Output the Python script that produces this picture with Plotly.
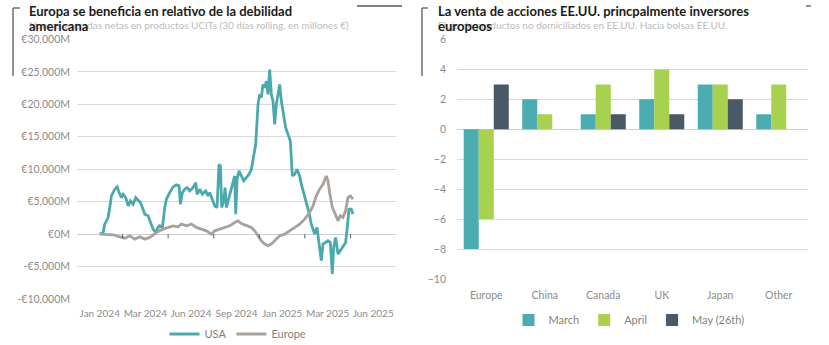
import plotly.graph_objects as go

# ---------------- data: left chart (UCITS net flows, € millions) ----------------
time_labels = ["Jan 2024", "Mar 2024", "Jun 2024", "Sep 2024", "Jan 2025", "Mar 2025", "Jun 2025"]
label_step = 136.8  # timeline units between two consecutive labels

usa_t = [0, 10, 15, 25, 30, 35, 45, 52, 58, 65, 70, 78, 85, 92, 100, 108, 115, 122, 128, 135,
         145, 152, 160, 168, 175, 180, 188, 195, 200, 210, 220, 230, 238, 242, 248, 255, 262,
         270, 280, 288, 292, 300, 308, 318, 325, 330, 338, 345, 352, 358, 362, 366, 372, 376,
         380, 385, 390, 398, 405, 408, 412, 418, 425, 432, 440, 448, 455, 460, 468, 475, 480,
         485, 490, 495, 500, 505, 510, 515, 520, 525, 530, 535, 540, 545, 552, 558, 565, 572,
         578, 585, 592, 600, 605, 612, 620, 628, 635, 645, 652, 658, 665, 670, 678, 685, 692,
         698, 702, 708, 715, 722, 730, 738, 743, 748, 755, 760]
usa_v = [0, 260, 1540, 2560, 4100, 5900, 6920, 7280, 6410, 5640, 6150, 5640, 4360, 5130, 4620,
         5640, 5230, 4870, 4100, 3080, 2820, 1790, 770, 260, 1030, 1280, 1030, 4100, 5380, 6410,
         7280, 7590, 7440, 4620, 6410, 6920, 7180, 6670, 7180, 7950, 6150, 6920, 6150, 6670,
         5900, 6410, 5130, 4360, 4100, 10770, 10510, 4100, 5130, 7180, 4100, 5130, 6150, 7440,
         8970, 3080, 8460, 9740, 8970, 8200, 8720, 9230, 10000, 11280, 13850, 20000, 21540,
         21030, 23080, 22560, 23590, 21540, 25380, 21540, 20510, 16920, 20000, 21540, 23080,
         20510, 18460, 16410, 15380, 14360, 8970, 9230, 10000, 8970, 7690, 6410, 4620, 3330,
         1540, 0, 1030, -1280, -4100, -1540, -1280, -1030, -1280, -6150, -2050, -510, -3080,
         -2560, -2050, -1280, 1030, 3850, 3850, 3080]

eur_t = [0, 20, 40, 60, 75, 90, 105, 120, 135, 150, 165, 175, 190, 205, 220, 235, 245, 260,
         275, 290, 305, 320, 335, 345, 360, 375, 390, 405, 415, 425, 440, 455, 465, 475, 485,
         495, 505, 515, 525, 540, 555, 570, 585, 600, 615, 630, 640, 650, 660, 670, 680, 685,
         690, 698, 705, 715, 722, 730, 738, 745, 752, 760]
eur_v = [0, -100, -100, -410, -620, -260, -770, -410, -770, -510, 0, 410, 770, 1030, 1280, 1130,
         1540, 1280, 1540, 1030, 770, 510, 0, 510, 770, 1030, 1280, 1790, 2050, 1640, 1280, 1030,
         510, -260, -1030, -1540, -1790, -1540, -1030, -260, 0, 510, 1030, 1540, 2310, 3330,
         4360, 5900, 6920, 7690, 8970, 8200, 6410, 4100, 3330, 2050, 2820, 2560, 3590, 5640,
         5900, 5380]

left_ticks = [-10000, -5000, 0, 5000, 10000, 15000, 20000, 25000, 30000]
left_ticktext = ["-€10,000M", "-€5,000M", "€0M", "€5,000M", "€10,000M", "€15,000M",
                 "€20,000M", "€25,000M", "€30,000M"]

# ---------------- data: right chart ----------------
regions = ["Europe", "China", "Canada", "UK", "Japan", "Other"]
march = [-8, 2, 1, 2, 3, 1]
april = [-6, 1, 3, 4, 3, 3]
may26 = [3, None, 1, 1, 2, None]
right_ticks = [-10, -8, -6, -4, -2, 0, 2, 4, 6]

# ---------------- styles ----------------
TEAL = "#4BA9AD"
GREY = "#A8A19C"
C_MAR = "#4BADB1"
C_APR = "#A7D14F"
C_MAY = "#4A5966"
GRID = "#D9D9D9"
TICK = "#8C8C8C"
FONT = "Lato"
W, H = 829, 345

fig = go.Figure()
fig.add_trace(go.Scatter(x=usa_t, y=usa_v, mode="lines", name="USA",
                         line=dict(color=TEAL, width=2.8), xaxis="x", yaxis="y",
                         legend="legend"))
fig.add_trace(go.Scatter(x=eur_t, y=eur_v, mode="lines", name="Europe",
                         line=dict(color=GREY, width=2.8), xaxis="x", yaxis="y",
                         legend="legend"))

for name, vals, col in [("March", march, C_MAR), ("April", april, C_APR), ("May (26th)", may26, C_MAY)]:
    fig.add_trace(go.Bar(x=regions, y=vals, name=name, marker=dict(color=col, line=dict(width=0)),
                         xaxis="x2", yaxis="y2", legend="legend2"))

# small tick marks on the zero line of the left chart, between labels
shapes = []
for i in range(len(time_labels) - 1):
    xt = (i + 0.5) * label_step
    shapes.append(dict(type="line", xref="x", yref="y", x0=xt, x1=xt, y0=0, y1=-650,
                       line=dict(color="#595959", width=1)))

# decorative frame lines
def pline(x0, y0, x1, y1, color="#595959", width=1.3):
    return dict(type="line", xref="paper", yref="paper", x0=x0 / W, x1=x1 / W,
                y0=1 - y0 / H, y1=1 - y1 / H, line=dict(color=color, width=width))

shapes += [
    pline(13, 8, 13, 76), pline(13, 8, 20, 8),
    pline(357, 6, 402, 6),
    pline(422, 8, 422, 76), pline(422, 8, 428, 8),
    pline(806, 6, 811, 6),
]

TS = 13
annotations = [
    dict(text="<b>Europa se beneficia en relativo de la debilidad</b>", x=27 / W, y=1 - 11 / H,
         xref="paper", yref="paper", xanchor="left", yanchor="middle", showarrow=False,
         font=dict(family=FONT, size=TS, color="#1a1a1a")),
    dict(text="Nuevas entradas netas en productos UCITs (30 días rolling, en millones €)",
         x=27 / W, y=1 - 25 / H, xref="paper", yref="paper", xanchor="left", yanchor="middle",
         showarrow=False, font=dict(family=FONT, size=10, color="#BBBBBB")),
    dict(text="<b>americana</b>", x=27 / W, y=1 - 26 / H,
         xref="paper", yref="paper", xanchor="left", yanchor="middle", showarrow=False,
         font=dict(family=FONT, size=TS, color="#1a1a1a")),
    dict(text="<b>La venta de acciones EE.UU. princpalmente inversores</b>", x=436 / W, y=1 - 11 / H,
         xref="paper", yref="paper", xanchor="left", yanchor="middle", showarrow=False,
         font=dict(family=FONT, size=TS, color="#1a1a1a")),
    dict(text="Flujo de productos no domiciliados en EE.UU. Hacia bolsas EE.UU.",
         x=436 / W, y=1 - 25 / H, xref="paper", yref="paper", xanchor="left", yanchor="middle",
         showarrow=False, font=dict(family=FONT, size=10, color="#BBBBBB")),
    dict(text="<b>europeos</b>", x=436 / W, y=1 - 26 / H,
         xref="paper", yref="paper", xanchor="left", yanchor="middle", showarrow=False,
         font=dict(family=FONT, size=TS, color="#1a1a1a")),
]

fig.update_layout(
    width=W, height=H,
    margin=dict(l=0, r=0, t=0, b=0, autoexpand=False),
    paper_bgcolor="white", plot_bgcolor="white",
    font=dict(family=FONT, size=10, color=TICK),
    barmode="group", bargap=0.23, bargroupgap=0,
    xaxis=dict(domain=[77 / W, 396 / W], range=[-label_step / 2, label_step * 6.5],
               tickvals=[i * label_step for i in range(len(time_labels))], ticktext=time_labels,
               showgrid=False, zeroline=False, showline=False, ticks="", ticklabelstandoff=7,
               tickangle=0, automargin=False,
               tickfont=dict(family=FONT, size=10, color=TICK), anchor="y"),
    yaxis=dict(domain=[1 - 299 / H, 1 - 39.5 / H], range=[-10000, 30000],
               tickvals=left_ticks, ticktext=left_ticktext, automargin=False,
               showgrid=True, gridcolor=GRID, gridwidth=1, zeroline=True,
               zerolinecolor="#CFCFCF", zerolinewidth=1.2, ticks="", ticklabelstandoff=6,
               tickfont=dict(family=FONT, size=10.5, color=TICK), anchor="x"),
    xaxis2=dict(domain=[457 / W, 808 / W], showgrid=False, zeroline=False, showline=False,
                ticks="", ticklabelstandoff=8, tickangle=0, automargin=False,
                tickfont=dict(family=FONT, size=10.5, color=TICK), anchor="y2"),
    yaxis2=dict(domain=[1 - 279 / H, 1 - 39.5 / H], range=[-10, 6], tickvals=right_ticks,
                showgrid=True, gridcolor=GRID, gridwidth=1, zeroline=True, automargin=False,
                zerolinecolor="#CFCFCF", zerolinewidth=1, ticks="", ticklabelstandoff=10,
                tickfont=dict(family=FONT, size=10.5, color=TICK), anchor="x2"),
    legend=dict(orientation="h", x=238 / W, y=1 - 334 / H, xanchor="center", yanchor="middle",
                font=dict(family=FONT, size=11, color="#7F7F7F"), bgcolor="rgba(0,0,0,0)",
                itemwidth=30, traceorder="normal"),
    legend2=dict(orientation="h", x=629 / W, y=1 - 320 / H, xanchor="center", yanchor="middle",
                 font=dict(family=FONT, size=11, color="#7F7F7F"), bgcolor="rgba(0,0,0,0)",
                 itemwidth=30, traceorder="normal"),
    shapes=shapes,
    annotations=annotations,
    showlegend=True,
)

fig.write_html("out.html")
